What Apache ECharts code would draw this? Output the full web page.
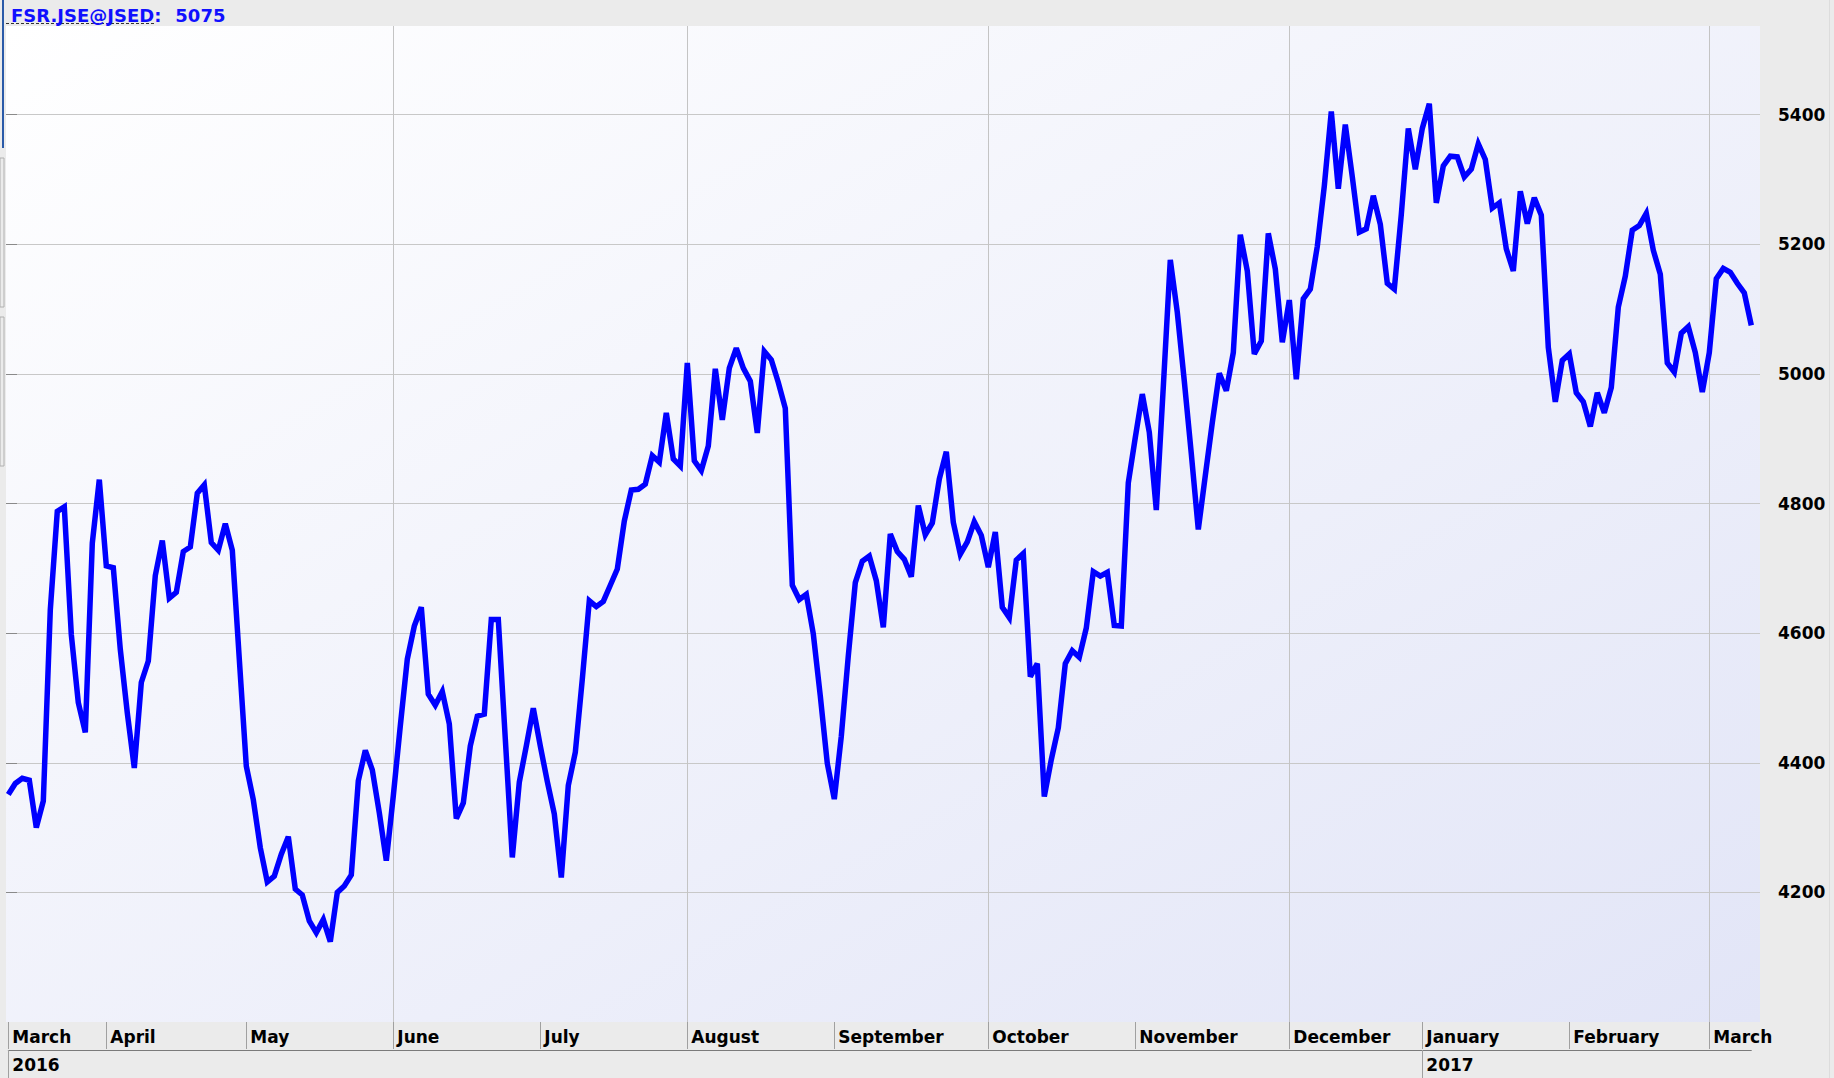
<!DOCTYPE html>
<html>
<head>
<meta charset="utf-8">
<script src="https://cdn.jsdelivr.net/npm/echarts@6/dist/echarts.min.js"></script>
<style>
html,body{margin:0;padding:0;background:#ebebeb;}
#chart{width:1834px;height:1078px;}
</style>
</head>
<body>
<div id="chart"></div>
<script>
// ---- data ----
const instrument = 'FSR.JSE@JSED:';
const values = [
  4351,4368,4376,4373,4300,4341,4636,4788,4795,4598,
  4493,4447,4739,4837,4704,4701,4575,4477,4392,4524,
  4557,4689,4743,4654,4663,4726,4733,4816,4829,4740,
  4728,4769,4728,4560,4395,4343,4269,4216,4225,4259,
  4286,4205,4196,4156,4138,4158,4124,4200,4210,4227,
  4372,4419,4389,4323,4249,4349,4457,4560,4611,4640,
  4506,4489,4510,4460,4314,4338,4426,4472,4475,4621,
  4621,4437,4254,4370,4426,4484,4426,4371,4321,4223,
  4365,4416,4529,4650,4641,4649,4674,4699,4773,4821,
  4822,4830,4874,4864,4940,4869,4858,5017,4866,4851,
  4889,5008,4929,5009,5040,5009,4989,4909,5035,5022,
  4987,4947,4674,4652,4660,4599,4503,4399,4344,4441,
  4565,4678,4711,4719,4681,4609,4753,4726,4714,4687,
  4797,4752,4770,4838,4880,4771,4722,4741,4772,4751,
  4702,4756,4640,4624,4713,4723,4533,4553,4348,4405,
  4454,4553,4573,4563,4608,4695,4688,4694,4612,4611,
  4832,4902,4969,4910,4790,4980,5176,5095,4989,4877,
  4760,4843,4925,5001,4974,5033,5215,5159,5031,5051,
  5217,5162,5049,5114,4992,5116,5131,5197,5290,5405,
  5286,5385,5304,5219,5224,5275,5231,5140,5131,5246,
  5379,5316,5379,5417,5264,5321,5336,5335,5304,5316,
  5355,5331,5256,5264,5193,5159,5282,5232,5272,5245,
  5041,4957,5021,5031,4971,4957,4919,4971,4940,4979,
  5103,5151,5222,5229,5248,5191,5154,5017,5003,5063,
  5073,5033,4972,5033,5147,5163,5157,5140,5125,5075
];
// month labels and the trading-day index at which each month starts
const monthLabels = ['March','April','May','June','July','August','September','October','November','December','January','February','March'];
const monthStarts = [0,14,34,55,76,97,118,140,161,183,202,223,243];
// year labels and their starting index
const yearLabels = ['2016','2017'];
const yearStarts = [0,202];
// months that carry a vertical grid line
const gridMonthStarts = [55,97,140,183,243];
// price axis
const yMin = 4200, yMax = 5400, yStep = 200;

// ---- chart ----
const FONT = 'DejaVu Sans';
const categories = values.map((v, i) => String(i));
const monthSet = new Set(monthStarts);
const yearSet = new Set(yearStarts);
const gridSet = new Set(gridMonthStarts);

const chart = echarts.init(document.getElementById('chart'), null, {renderer: 'svg'});

const labelBase = {fontFamily: FONT, fontWeight: 'bold', fontSize: 17, color: '#000'};

const option = {
  backgroundColor: '#ebebeb',
  animation: false,
  title: {
    left: 6, top: 1,
    text: '{a|' + instrument + '}{b|' + values[values.length - 1] + '}',
    textStyle: {
      rich: {
        a: {fontFamily: FONT, fontWeight: 'bold', fontSize: 18, color: '#1010ff'},
        b: {fontFamily: FONT, fontWeight: 'bold', fontSize: 18, color: '#1010ff', padding: [0, 0, 0, 14]}
      }
    }
  },
  graphic: [
    {type: 'line', shape: {x1: 6, y1: 23.5, x2: 154, y2: 23.5}, style: {stroke: '#333', lineWidth: 1, lineDash: [3, 2]}},
    {type: 'line', shape: {x1: 3, y1: 0, x2: 3, y2: 148}, style: {stroke: '#2a5aa8', lineWidth: 2}},
    {type: 'rect', shape: {x: 0, y: 158, width: 4, height: 149}, style: {fill: 'none', stroke: '#b0b0b0', lineWidth: 1}},
    {type: 'rect', shape: {x: 0, y: 317, width: 4, height: 149}, style: {fill: 'none', stroke: '#b0b0b0', lineWidth: 1}},
    {type: 'line', shape: {x1: 1829.5, y1: 0, x2: 1829.5, y2: 1078}, style: {stroke: '#dcdcdc', lineWidth: 1}}
  ],
  grid: [
    {left: 6, right: 74, top: 26, bottom: 56, show: true, borderWidth: 0,
     backgroundColor: {type: 'linear', x: 0, y: 0, x2: 1, y2: 1,
       colorStops: [{offset: 0, color: '#ffffff'}, {offset: 1, color: '#e2e5f7'}]}},
    {left: 6, right: 74, top: 114.6, bottom: 185.6},
    {left: 8.3, right: 82.7, top: 26, bottom: 56}
  ],
  xAxis: [
    {gridIndex: 0, type: 'value', show: false},
    {gridIndex: 1, type: 'value', show: false},
    {gridIndex: 2, type: 'category', data: categories, boundaryGap: false, position: 'bottom',
     axisLine: {show: false},
     axisTick: {show: true, interval: (i) => monthSet.has(i), length: 27, lineStyle: {color: '#a0a0a0'}},
     axisLabel: Object.assign({}, labelBase, {
       interval: (i) => monthSet.has(i),
       formatter: (v) => monthLabels[monthStarts.indexOf(Number(v))],
       align: 'left', padding: [0, 0, 0, 4], margin: 6
     }),
     splitLine: {show: true, interval: (i) => gridSet.has(i), lineStyle: {color: '#c4c4c4', width: 1}}
    },
    {gridIndex: 2, type: 'category', data: categories, boundaryGap: false, position: 'bottom', offset: 28,
     axisLine: {show: true, lineStyle: {color: '#7a7a7a', width: 1}},
     axisTick: {show: true, interval: (i) => yearSet.has(i), length: 28, lineStyle: {color: '#a0a0a0'}},
     axisLabel: Object.assign({}, labelBase, {
       interval: (i) => yearSet.has(i),
       formatter: (v) => yearLabels[yearStarts.indexOf(Number(v))],
       align: 'left', padding: [0, 0, 0, 4], margin: 6
     }),
     splitLine: {show: false}
    }
  ],
  yAxis: [
    {gridIndex: 0, type: 'value', show: false},
    {gridIndex: 1, type: 'value', position: 'right', min: yMin, max: yMax, interval: yStep,
     axisLine: {show: false},
     axisTick: {show: true, length: 11, lineStyle: {color: '#8a8a8a'}},
     axisLabel: Object.assign({}, labelBase, {margin: 18, formatter: (v) => String(v)}),
     splitLine: {show: true, lineStyle: {color: '#c8c8c8', width: 1}}
    },
    {gridIndex: 2, type: 'value', min: 4000, max: 5537, show: false}
  ],
  series: [{
    type: 'line', xAxisIndex: 2, yAxisIndex: 2, data: values,
    symbol: 'none', z: 5,
    lineStyle: {color: '#0000ff', width: 5.5, join: 'miter', miterLimit: 3}
  }]
};
chart.setOption(option);
</script>
</body>
</html>
